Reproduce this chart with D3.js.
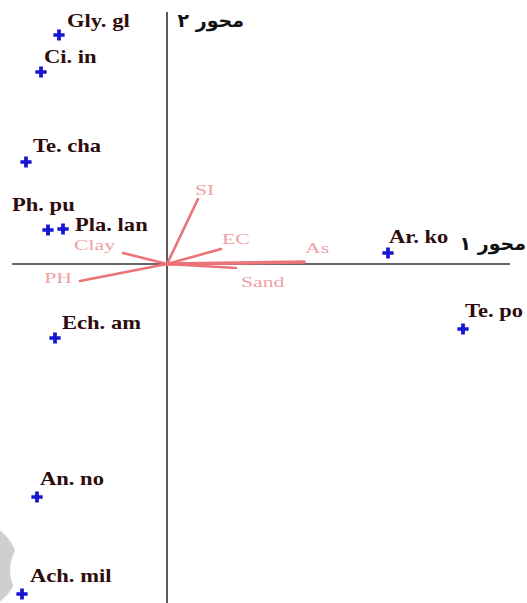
<!DOCTYPE html>
<html lang="en">
  <head>
    <meta charset="utf-8">
    <title>Biplot</title>
    <script type="text/javascript" src="https://d3js.org/d3.v7.min.js"></script>
  </head>
  <style>
    body { margin: 0; background: #fff; }
    svg { display: block; }
  </style>
  <body>
    <svg class="plot"></svg>
  </body>

  <script>
    const width = 527;
    const height = 603;

    // species scores (axis 1, axis 2)
    const species = ["Gly. gl", "Ci. in", "Te. cha", "Ph. pu", "Pla. lan", "Ech. am", "An. no", "Ach. mil", "Ar. ko", "Te. po"];
    const speciesX = [-1.08, -1.26, -1.41, -1.19, -1.04, -1.12, -1.30, -1.45, 2.21, 2.96];
    const speciesY = [2.29, 1.92, 1.02, 0.34, 0.35, -0.74, -2.33, -3.30, 0.11, -0.65];

    // environmental variable arrows
    const variables = ["SI", "EC", "As", "Sand", "Clay", "PH"];
    const varX = [0.31, 0.54, 1.37, 0.69, -0.44, -0.87];
    const varY = [0.65, 0.15, 0.02, -0.04, 0.11, -0.17];

    const axisLabels = ["محور ۱", "محور ۲"];

    // label nudges (px) relative to the point / arrow tip
    const speciesNudge = {
      "Gly. gl": [8, -8], "Ci. in": [3, -9], "Te. cha": [7, -10], "Ph. pu": [-36, -19],
      "Pla. lan": [12, 2], "Ech. am": [7, -9], "An. no": [3, -12], "Ach. mil": [8, -12],
      "Ar. ko": [1, -10], "Te. po": [2, -12]
    };
    const varNudge = {
      "SI": [-3, -4, "start"], "EC": [1, -5, "start"], "As": [1, -9, "start"],
      "Sand": [5, 19, "start"], "Clay": [-8, -3, "end"], "PH": [-8, 2, "end"]
    };

    const x = d3.scaleLinear().domain([-1.67, 3.6]).range([0, width]);
    const y = d3.scaleLinear().domain([2.64, -3.39]).range([0, height]);

    const svg = d3.select(".plot").attr("width", width).attr("height", height);

    // faint watermark crescent in the lower-left corner
    svg.append("circle").attr("cx", -26).attr("cy", 566).attr("r", 44).attr("fill", "#cfcfcf");
    svg.append("circle").attr("cx", 50).attr("cy", 570).attr("r", 40).attr("fill", "#fff");

    // axes
    svg.append("line")
      .attr("x1", x(0)).attr("x2", x(0))
      .attr("y1", 12).attr("y2", height)
      .attr("stroke", "#333").attr("stroke-width", 1.6);
    svg.append("line")
      .attr("x1", 12).attr("x2", 510)
      .attr("y1", y(0)).attr("y2", y(0))
      .attr("stroke", "#333").attr("stroke-width", 1.6);

    svg.append("text")
      .text(axisLabels[1])
      .attr("x", x(0) + 77).attr("y", 27)
      .attr("text-anchor", "end")
      .attr("font-family", "DejaVu Sans")
      .attr("font-weight", "bold")
      .attr("font-size", 19)
      .attr("fill", "#111");
    svg.append("text")
      .text(axisLabels[0])
      .attr("x", 526).attr("y", 250)
      .attr("text-anchor", "end")
      .attr("font-family", "DejaVu Sans")
      .attr("font-weight", "bold")
      .attr("font-size", 19)
      .attr("fill", "#111");

    // arrows
    svg.selectAll(".arrow")
      .data(variables)
      .enter()
      .append("line")
        .attr("class", "arrow")
        .attr("x1", x(0)).attr("y1", y(0))
        .attr("x2", (d, i) => x(varX[i]))
        .attr("y2", (d, i) => y(varY[i]))
        .attr("stroke", "#ec7479")
        .attr("stroke-width", (d) => d == "As" ? 3.5 : 2.6)
        .attr("stroke-linecap", "round");

    svg.selectAll(".varLabel")
      .data(variables)
      .enter()
      .append("text")
        .attr("class", "varLabel")
        .text(d => d)
        .attr("transform", (d, i) => "translate(" + (x(varX[i]) + varNudge[d][0]) + "," + (y(varY[i]) + varNudge[d][1]) + ") scale(1.45,1)")
        .attr("text-anchor", d => varNudge[d][2])
        .attr("font-family", "Liberation Serif")
        .attr("font-size", 15)
        .attr("fill", "#efa1a7");

    // species points
    svg.selectAll(".pt")
      .data(species)
      .enter()
      .append("path")
        .attr("class", "pt")
        .attr("d", d3.symbol().type(d3.symbolCross).size(70))
        .attr("transform", (d, i) => "translate(" + x(speciesX[i]) + "," + y(speciesY[i]) + ")")
        .attr("fill", "#1515d2");

    svg.selectAll(".spLabel")
      .data(species)
      .enter()
      .append("text")
        .attr("class", "spLabel")
        .text(d => d)
        .attr("transform", (d, i) => "translate(" + (x(speciesX[i]) + speciesNudge[d][0]) + "," + (y(speciesY[i]) + speciesNudge[d][1]) + ") scale(1.22,1)")
        .attr("font-family", "Liberation Serif")
        .attr("font-weight", "bold")
        .attr("font-size", 18.5)
        .attr("fill", "#2e0c0d");
  </script>
</html>
